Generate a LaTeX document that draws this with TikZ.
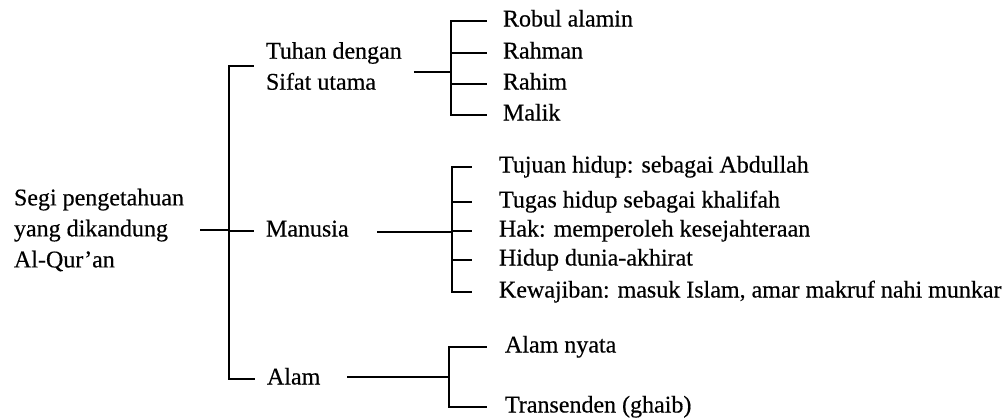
\documentclass[tikz,border=0pt]{standalone}
\usepackage{fontspec}
\setmainfont{Liberation Serif}[FakeBold=0.4]
\usetikzlibrary{positioning}

\begin{document}
\begin{tikzpicture}[x=1pt,y=-1pt,line width=2pt,
    label/.style={anchor=west,inner ysep=0pt,font=\fontsize{24}{31}\selectfont},
    leaf/.style={label,text height=16pt,text depth=5pt},
    block/.style={label,align=left}]
  \useasboundingbox (0,0) rectangle (1008,418);

  % root and first level
  \node (root) [block,inner xsep=0pt] at (13,230) {Segi pengetahuan\\yang dikandung\\Al-Qur'an};
  \begin{scope}[every node/.append style={inner xsep=11pt}]
    \node (tuhan) [block] at (254,66) {Tuhan dengan\\Sifat utama};
    \node (manusia) [leaf] at (254,231) {Manusia};
    \node (alam) [leaf] at (255,379) {Alam};
  \end{scope}

  % junctions and line starts
  \coordinate (r0) at (200,230);
  \coordinate (j0) at (229,230);
  \coordinate (tj) at (451,72);
  \coordinate (m0) at (377,232);
  \coordinate (mj) at (452,232);
  \coordinate (a0) at (347,377);
  \coordinate (aj) at (449,377);

  % second level
  \begin{scope}[every node/.append style={inner xsep=15pt}]
    \node (robul) [leaf] at (487,21) {Robul alamin};
    \node (rahman) [leaf] at (487,53) {Rahman};
    \node (rahim) [leaf] at (487,84) {Rahim};
    \node (malik) [leaf] at (487,115) {Malik};
  \end{scope}
  \begin{scope}[every node/.append style={inner xsep=26pt}]
    \node (tujuan) [leaf] at (472,167) {Tujuan hidup: sebagai Abdullah};
    \node (tugas) [leaf] at (472,202) {Tugas hidup sebagai khalifah};
    \node (hak) [leaf] at (472,231) {Hak: memperoleh kesejahteraan};
    \node (hidup) [leaf] at (472,260) {Hidup dunia-akhirat};
    \node (wajib) [leaf] at (472,292) {Kewajiban: masuk Islam, amar makruf nahi munkar};
  \end{scope}
  \begin{scope}[every node/.append style={inner xsep=17pt}]
    \node (nyata) [leaf] at (487,347) {Alam nyata};
    \node (ghaib) [leaf] at (487,407) {Transenden (ghaib)};
  \end{scope}

  \path (r0) edge (j0);
  \draw (j0) |- (tuhan.west) (j0) |- (manusia.west) (j0) |- (alam.west);

  \path (tuhan.east |- tj) edge (tj);
  \draw (tj) |- (robul.west) (tj) |- (rahman.west) (tj) |- (rahim.west) (tj) |- (malik.west);

  \path (m0) edge (mj);
  \draw (mj) |- (tujuan.west) (mj) |- (tugas.west) (mj) |- (hak.west) (mj) |- (hidup.west) (mj) |- (wajib.west);

  \path (a0) edge (aj);
  \draw (aj) |- (nyata.west) (aj) |- (ghaib.west);
\end{tikzpicture}
\end{document}
